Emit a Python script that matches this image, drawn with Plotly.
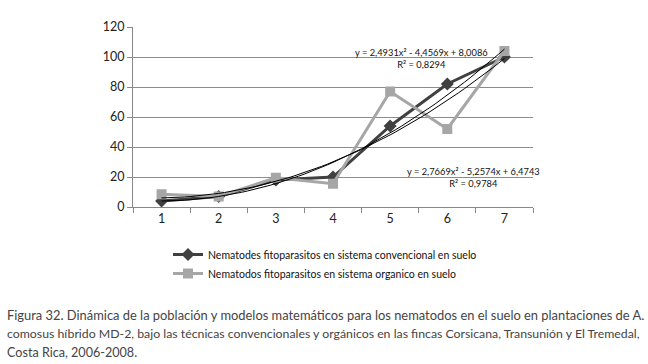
import numpy as np
import plotly.graph_objects as go

categories = [1, 2, 3, 4, 5, 6, 7]
conv_values = [4, 7, 18, 20, 54, 82, 100]
org_values = [8.5, 7, 19.5, 15.5, 77, 52, 104]
conv_name = "Nematodes fitoparasitos en sistema convencional en suelo"
org_name = "Nematodos fitoparasitos en sistema organico en suelo"
conv_coef = [2.7669, -5.2574, 6.4743]
org_coef = [2.4931, -4.4569, 8.0086]
conv_eq = "y = 2,7669x² - 5,2574x + 6,4743<br>R² = 0,9784"
org_eq = "y = 2,4931x² - 4,4569x + 8,0086<br>R² = 0,8294"
y_ticks = [0, 20, 40, 60, 80, 100, 120]
caption = [
    "Figura 32. Dinámica de la población y modelos matemáticos para los nematodos en el suelo en plantaciones de A.",
    "comosus híbrido MD-2, bajo las técnicas convencionales y orgánicos en las fincas Corsicana, Transunión y El Tremedal,",
    "Costa Rica, 2006-2008.",
]
caption_sizes = [12.9, 12.3, 12.6]

FONT = "Lato"
W, H = 648, 364
pl, pr, pt, pb = 133, 115, 27, 157
pw, ph = W - pl - pr, H - pt - pb


def px_x(x):
    return (x - pl) / pw


def px_y(y):
    return (H - pb - y) / ph


xs = np.linspace(categories[0], categories[-1], 61)

fig = go.Figure()
fig.add_trace(go.Scatter(x=categories, y=conv_values, name=conv_name, mode="lines+markers",
                         line=dict(color="#404040", width=3),
                         marker=dict(symbol="diamond", size=10, color="#404040")))
fig.add_trace(go.Scatter(x=categories, y=org_values, name=org_name, mode="lines+markers",
                         line=dict(color="#a6a6a6", width=3),
                         marker=dict(symbol="square", size=10, color="#a6a6a6")))
for coef in (conv_coef, org_coef):
    fig.add_trace(go.Scatter(x=xs, y=np.polyval(coef, xs), mode="lines", showlegend=False,
                             line=dict(color="#000000", width=1), hoverinfo="skip"))

fig.add_annotation(x=5.55, y=99.3, xref="x", yref="y", text=org_eq, showarrow=False,
                   font=dict(family=FONT, size=9.3, color="#111"), align="center")
fig.add_annotation(x=6.45, y=20, xref="x", yref="y", text=conv_eq, showarrow=False,
                   font=dict(family=FONT, size=9.3, color="#111"), align="center")

for i, line in enumerate(caption):
    fig.add_annotation(x=px_x(5), y=px_y(315 + i * 18.5), xref="paper", yref="paper", text=line,
                       showarrow=False, xanchor="left", yanchor="middle",
                       font=dict(family=FONT, size=caption_sizes[i], color="#444"))

fig.update_layout(
    width=W, height=H,
    margin=dict(l=pl, r=pr, t=pt, b=pb),
    paper_bgcolor="white", plot_bgcolor="white",
    font=dict(family=FONT, color="#222"),
    legend=dict(x=px_x(168), y=px_y(240), xanchor="left", yanchor="top",
                font=dict(family=FONT, size=10.5, color="#111"), bgcolor="rgba(0,0,0,0)",
                tracegroupgap=0, itemwidth=30),
    showlegend=True,
)
fig.update_xaxes(range=[0.5, 7.5], tickvals=categories, ticks="", showgrid=False,
                 showline=True, linecolor="#888", linewidth=1, zeroline=False,
                 tickfont=dict(size=12.5, color="#222"),
                 minor=dict(ticks="outside", tick0=0.5, dtick=1, ticklen=5, tickcolor="#888", showgrid=False))
fig.update_yaxes(range=[0, 120], tickvals=y_ticks, showgrid=True, gridcolor="#8c8c8c", gridwidth=1,
                 showline=True, linecolor="#888", linewidth=1, zeroline=False,
                 ticks="outside", ticklen=5, tickcolor="#888",
                 tickfont=dict(size=12.5, color="#222"))

fig.write_html("out.html", config={"displayModeBar": False},
               post_script="document.body.style.margin='0';")
